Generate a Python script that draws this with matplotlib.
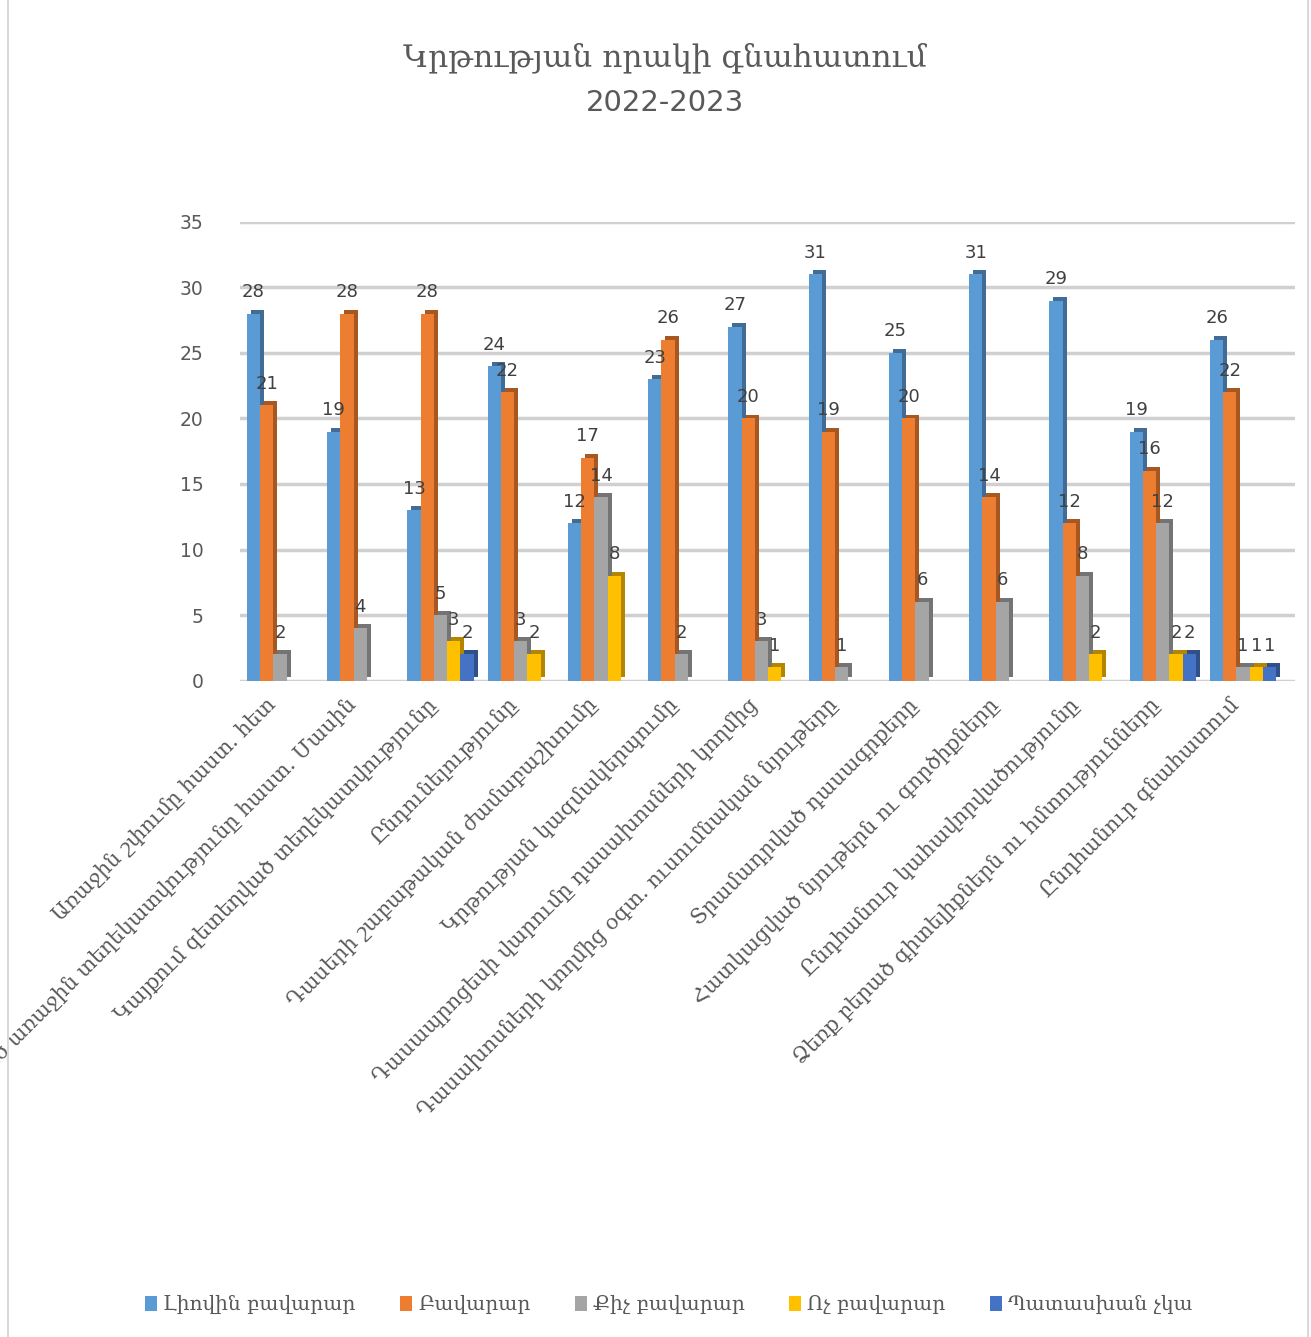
import numpy as np
import matplotlib.pyplot as plt
import matplotlib.colors as mcolors
from matplotlib.patches import Rectangle

categories = [
    "Առաջին շփումը հաստ. հետ",
    "Ստացված առաջին տեղեկատվությունը հաստ. Մասին",
    "Կայքում զետեղված տեղեկատվությունը",
    "Ընդունելությունը",
    "Դասերի շաբաթական ժամաբաշխումը",
    "Կրթության կազմակերպումը",
    "Դասապրոցեսի վարումը դասախոսների կողմից",
    "Դասախոսների կողմից օգտ. ուսումնական նյութերը",
    "Տրամադրված դասագրքերը",
    "Հատկացված նյութերն ու գործիքները",
    "Ընդհանուր կահավորվածությունը",
    "Ձեռք բերած գիտելիքներն ու հմտությունները",
    "Ընդհանուր գնահատում",
]
series_names = ["Լիովին բավարար", "Բավարար", "Քիչ բավարար", "Ոչ բավարար", "Պատասխան չկա"]

full_ok = [28, 19, 13, 24, 12, 23, 27, 31, 25, 31, 29, 19, 26]
ok = [21, 28, 28, 22, 17, 26, 20, 19, 20, 14, 12, 16, 22]
little_ok = [2, 4, 5, 3, 14, 2, 3, 1, 6, 6, 8, 12, 1]
not_ok = [0, 0, 3, 2, 8, 0, 1, 0, 0, 0, 2, 2, 1]
no_answer = [0, 0, 2, 0, 0, 0, 0, 0, 0, 0, 0, 2, 1]

series = [full_ok, ok, little_ok, not_ok, no_answer]
colors = ["#5B9BD5", "#ED7D31", "#A5A5A5", "#FFC000", "#4472C4"]

text_color = "#595959"
arm_font = ["DejaVu Serif", "DejaVu Sans"]

fig = plt.figure(figsize=(13.11, 13.37), dpi=100)
ax = fig.add_axes([0.183, 0.491, 0.805, 0.343])

x = np.arange(len(categories))
width = 0.165
dx, dy = 0.05, 0.3

for i, (vals, col) in enumerate(zip(series, colors)):
    pos = x + (i - 2) * width
    vals = np.array(vals)
    mask = vals > 0
    dark = np.array(mcolors.to_rgb(col)) * 0.7
    # fake 3d side/top
    ax.bar(pos[mask] + dx, vals[mask], width, bottom=dy, color=dark, zorder=2 + i * 2)
    ax.bar(pos[mask], vals[mask], width, color=col, label=series_names[i], zorder=3 + i * 2)
    for xp, v in zip(pos[mask], vals[mask]):
        ax.annotate(str(v), (xp, v), xytext=(0, 9), textcoords="offset points",
                    ha="center", va="bottom", fontsize=13, color="#404040", zorder=20)

ax.set_xlim(-0.5, 12.65)
ax.set_ylim(0, 35)
ax.set_yticks(range(0, 36, 5))
ax.yaxis.grid(True, color="#d0d0d0", linewidth=2.5)
ax.set_axisbelow(True)
for s in ax.spines.values():
    s.set_visible(False)
ax.tick_params(axis="y", length=0, pad=26, labelsize=13.5, labelcolor=text_color)
ax.tick_params(axis="x", length=0, pad=10)
ax.set_xticks(x - 0.18)
ax.set_xticklabels(categories, rotation=45, ha="right", rotation_mode="anchor",
                   fontsize=15, color=text_color, family=arm_font)

fig.text(0.507, 0.957, "Կրթության որակի գնահատում", ha="center", va="center",
         fontsize=22.5, color=text_color, family=arm_font)
fig.text(0.507, 0.923, "2022-2023", ha="center", va="center", fontsize=21, color=text_color)

handles, labels = ax.get_legend_handles_labels()
fig.legend(handles, labels, loc="center", bbox_to_anchor=(0.51, 0.024), ncol=5,
           frameon=False, handlelength=0.6, handleheight=0.8, handletextpad=0.3,
           columnspacing=2.2, prop={"family": arm_font, "size": 14.5}, labelcolor=text_color)

fig.patches.append(Rectangle((0.006, -0.01), 0.992, 1.02, transform=fig.transFigure,
                             fill=False, edgecolor="#d9d9d9", linewidth=1.5))

plt.savefig("out.png", dpi=100)
plt.close()
